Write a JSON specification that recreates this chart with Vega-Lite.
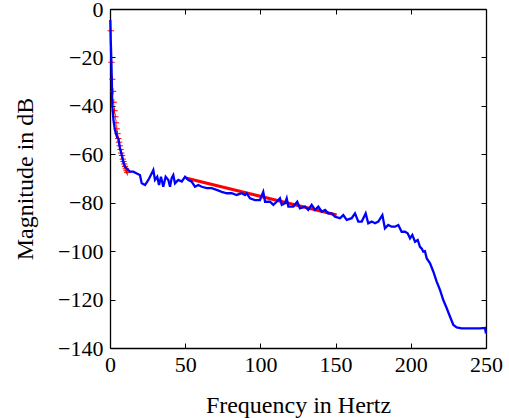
{
  "$schema": "https://vega.github.io/schema/vega-lite/v6.json",
  "width": 376,
  "height": 339,
  "autosize": "none",
  "padding": {"left": 110, "top": 9, "right": 23, "bottom": 70},
  "background": "white",
  "config": {
    "view": {"stroke": null},
    "axis": {
      "domainColor": "black",
      "domainWidth": 1.3,
      "tickColor": "black",
      "tickWidth": 1,
      "tickSize": -5,
      "grid": false,
      "labelFlush": false,
      "labelFont": "Liberation Serif",
      "labelFontSize": 22,
      "labelColor": "black",
      "titleFont": "Liberation Serif",
      "titleFontSize": 24,
      "titleFontWeight": "normal",
      "titleColor": "black"
    }
  },
  "datasets": {
    "blue": [
      {"f": 0.2, "db": -4.5}, {"f": 0.5, "db": -12.8}, {"f": 0.9, "db": -21}, {"f": 1.2, "db": -29.3},
      {"f": 1.5, "db": -39.6}, {"f": 2.3, "db": -45.8}, {"f": 3.3, "db": -50}, {"f": 4.7, "db": -52.9},
      {"f": 5.5, "db": -53.5}, {"f": 6.6, "db": -57.4}, {"f": 7.8, "db": -60.3}, {"f": 9, "db": -63.6},
      {"f": 10, "db": -65.3}, {"f": 11.1, "db": -65.8}, {"f": 13.3, "db": -67.2}, {"f": 15.5, "db": -67.2},
      {"f": 17.8, "db": -67.9}, {"f": 19.9, "db": -68.6}, {"f": 21.1, "db": -72.0}, {"f": 23.3, "db": -72.7},
      {"f": 25.5, "db": -70.6}, {"f": 27.7, "db": -67.9}, {"f": 28.8, "db": -66.5}, {"f": 29.9, "db": -70.6},
      {"f": 31.4, "db": -69.3}, {"f": 32.6, "db": -72.7}, {"f": 33.9, "db": -69.3}, {"f": 35.4, "db": -73.4},
      {"f": 37.0, "db": -69.3}, {"f": 38.8, "db": -70.6}, {"f": 39.9, "db": -73.4}, {"f": 41.0, "db": -69.9},
      {"f": 42.1, "db": -68.6}, {"f": 43.2, "db": -72.0}, {"f": 45.4, "db": -70.6}, {"f": 47.7, "db": -71.3},
      {"f": 49.9, "db": -69.3}, {"f": 52.1, "db": -70.6}, {"f": 54.3, "db": -71.3}, {"f": 56.5, "db": -73.4},
      {"f": 58.7, "db": -72.7}, {"f": 61.0, "db": -73.4}, {"f": 64.3, "db": -74.0}, {"f": 67.6, "db": -74.0},
      {"f": 70.9, "db": -74.7}, {"f": 74.3, "db": -75.5}, {"f": 77.6, "db": -76.1}, {"f": 80.9, "db": -76.1},
      {"f": 84.2, "db": -76.8}, {"f": 87.6, "db": -76.1}, {"f": 89.8, "db": -76.8}, {"f": 90.9, "db": -76.1},
      {"f": 93.1, "db": -78.2}, {"f": 96.4, "db": -78.9}, {"f": 99.7, "db": -78.9}, {"f": 101.9, "db": -75.5},
      {"f": 103.1, "db": -79.6}, {"f": 106.4, "db": -79.6}, {"f": 108.6, "db": -80.9}, {"f": 110.8, "db": -79.6},
      {"f": 113.0, "db": -78.2}, {"f": 114.2, "db": -80.9}, {"f": 116.4, "db": -80.2}, {"f": 117.5, "db": -78.2},
      {"f": 118.6, "db": -81.6}, {"f": 121.9, "db": -81.6}, {"f": 124.5, "db": -79.6}, {"f": 126.3, "db": -82.3},
      {"f": 129.7, "db": -81.6}, {"f": 131.8, "db": -83.0}, {"f": 134.1, "db": -80.9}, {"f": 136.3, "db": -83.0},
      {"f": 138.5, "db": -81.6}, {"f": 140.8, "db": -83.7}, {"f": 143.0, "db": -83.0}, {"f": 145.1, "db": -84.4},
      {"f": 147.4, "db": -84.4}, {"f": 149.6, "db": -85.8}, {"f": 152.9, "db": -86.4}, {"f": 155.1, "db": -85.1},
      {"f": 157.4, "db": -87.1}, {"f": 160.7, "db": -86.4}, {"f": 162.9, "db": -84.4}, {"f": 165.1, "db": -87.8},
      {"f": 167.4, "db": -87.8}, {"f": 170.0, "db": -84.4}, {"f": 171.7, "db": -88.5}, {"f": 174.0, "db": -87.8},
      {"f": 176.2, "db": -88.5}, {"f": 178.4, "db": -87.8}, {"f": 181.1, "db": -85.1}, {"f": 182.8, "db": -90.6},
      {"f": 185.0, "db": -89.2}, {"f": 187.3, "db": -89.9}, {"f": 189.5, "db": -89.9}, {"f": 191.7, "db": -89.2},
      {"f": 193.9, "db": -92.0}, {"f": 196.1, "db": -92.0}, {"f": 197.9, "db": -92.6}, {"f": 199.5, "db": -94.7},
      {"f": 201.0, "db": -93.3}, {"f": 202.8, "db": -96.1}, {"f": 204.6, "db": -95.4}, {"f": 206.1, "db": -98.2},
      {"f": 207.3, "db": -99.0}, {"f": 208.3, "db": -100.2}, {"f": 209.4, "db": -100.0}, {"f": 210.6, "db": -103},
      {"f": 212.8, "db": -105}, {"f": 215, "db": -108.5}, {"f": 217.2, "db": -112.6}, {"f": 219.4, "db": -116},
      {"f": 221.6, "db": -120.2}, {"f": 223.9, "db": -123.6}, {"f": 226.1, "db": -127.1}, {"f": 228.3, "db": -130.5},
      {"f": 230.5, "db": -131.5}, {"f": 233.8, "db": -131.9}, {"f": 239.4, "db": -131.9}, {"f": 246, "db": -131.9},
      {"f": 249.3, "db": -131.7}, {"f": 250, "db": -134}
    ],
    "redpts": [
      {"f": 0.5, "db": -9}, {"f": 1.0, "db": -22}, {"f": 1.5, "db": -29}, {"f": 2.0, "db": -34},
      {"f": 2.5, "db": -38.5}, {"f": 3.0, "db": -42}, {"f": 3.5, "db": -44.5}, {"f": 4.0, "db": -47},
      {"f": 4.5, "db": -49.5}, {"f": 5.0, "db": -51.5}, {"f": 5.5, "db": -53.5}, {"f": 6.0, "db": -55},
      {"f": 6.5, "db": -56.5}, {"f": 7.0, "db": -58}, {"f": 7.5, "db": -59.5}, {"f": 8.0, "db": -60.5},
      {"f": 8.5, "db": -62}, {"f": 9.0, "db": -63}, {"f": 9.5, "db": -64}, {"f": 10.0, "db": -65},
      {"f": 10.5, "db": -66}, {"f": 11.0, "db": -66.8}, {"f": 11.5, "db": -67.5}
    ],
    "redline": [
      {"f": 51, "db": -69.9}, {"f": 150.7, "db": -85.1}
    ]
  },
  "layer": [
    {
      "data": {"name": "redline"},
      "mark": {"type": "line", "color": "#ff0000", "strokeWidth": 3},
      "encoding": {
        "x": {"field": "f", "type": "quantitative", "scale": {"domain": [0, 250], "nice": false, "zero": false},
              "axis": {"orient": "top", "labels": false, "title": null, "values": [0, 50, 100, 150, 200, 250]}},
        "y": {"field": "db", "type": "quantitative", "scale": {"domain": [-140, 0], "nice": false, "zero": false},
              "axis": {"orient": "right", "labels": false, "title": null, "values": [-140, -120, -100, -80, -60, -40, -20, 0]}}
      }
    },
    {
      "data": {"name": "redpts"},
      "mark": {"type": "point", "shape": "M-1,0H1M0,-1V1", "filled": false, "color": "#ff0000", "strokeWidth": 1, "size": 40, "opacity": 1},
      "encoding": {
        "x": {"field": "f", "type": "quantitative", "axis": null},
        "y": {"field": "db", "type": "quantitative", "axis": null}
      }
    },
    {
      "data": {"name": "blue"},
      "mark": {"type": "line", "color": "#0000ff", "strokeWidth": 2.3},
      "encoding": {
        "x": {"field": "f", "type": "quantitative",
              "axis": {"orient": "bottom", "title": "Frequency in Hertz", "values": [0, 50, 100, 150, 200, 250],
                       "labelPadding": 11, "titleY": 64, "titleBaseline": "alphabetic"}},
        "y": {"field": "db", "type": "quantitative",
              "axis": {"orient": "left", "title": "Magnitude in dB", "values": [-140, -120, -100, -80, -60, -40, -20, 0],
                       "labelPadding": 12, "titleX": -85, "titleY": 169.5, "titleBaseline": "middle", "titleAngle": -90}}
      }
    }
  ],
  "resolve": {"axis": {"x": "independent", "y": "independent"}}
}
